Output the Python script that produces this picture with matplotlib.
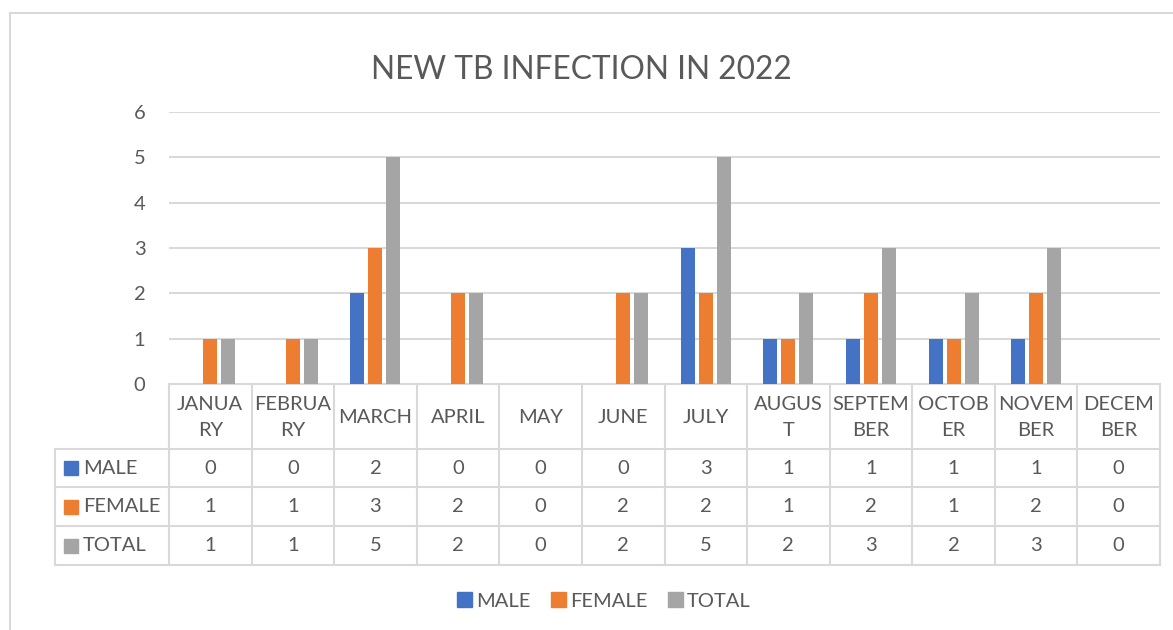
import matplotlib
matplotlib.use("Agg")
import matplotlib.pyplot as plt
from matplotlib.lines import Line2D
from matplotlib.patches import Rectangle

months = ["JANUARY", "FEBRUARY", "MARCH", "APRIL", "MAY", "JUNE", "JULY",
          "AUGUST", "SEPTEMBER", "OCTOBER", "NOVEMBER", "DECEMBER"]
month_labels = ["JANUA\nRY", "FEBRUA\nRY", "MARCH", "APRIL", "MAY", "JUNE", "JULY",
                "AUGUS\nT", "SEPTEM\nBER", "OCTOB\nER", "NOVEM\nBER", "DECEM\nBER"]
male = [0, 0, 2, 0, 0, 0, 3, 1, 1, 1, 1, 0]
female = [1, 1, 3, 2, 0, 2, 2, 1, 2, 1, 2, 0]
total = [1, 1, 5, 2, 0, 2, 5, 2, 3, 2, 3, 0]
series_names = ["MALE", "FEMALE", "TOTAL"]
y_ticks = [0, 1, 2, 3, 4, 5, 6]

colors = ["#4472C4", "#ED7D31", "#A5A5A5"]
text_color = "#595959"
line_color = "#D9D9D9"

plt.rcParams["font.family"] = ["Lato", "DejaVu Sans"]

W, H = 1173, 630
fig = plt.figure(figsize=(W / 100, H / 100), dpi=100)

# plot area in pixels
left, right, top, bottom = 169, 1160, 112, 384
ax = fig.add_axes([left / W, 1 - bottom / H, (right - left) / W, (bottom - top) / H])
ax.set_xlim(-0.5, len(months) - 0.5)
ax.set_ylim(0, 6)

unit_y = (bottom - top) / 6.0


def py(pix):
    # pixel row below the axis -> data y
    return (bottom - pix) / unit_y


col_w = (right - left) / len(months)


def px(pix):
    return (pix - left) / col_w - 0.5


bar_w = 14 / col_w
step = 18 / col_w
x = list(range(len(months)))
all_series = [male, female, total]
for k, (vals, c) in enumerate(zip(all_series, colors)):
    ax.bar([i + (k - 1) * step for i in x], vals, width=bar_w, color=c, zorder=3)

ax.set_yticks(y_ticks)
ax.set_yticklabels([str(t) for t in y_ticks], fontsize=14.5, color=text_color)
ax.tick_params(axis="y", length=0, pad=17)
ax.set_xticks([])
for s in ax.spines.values():
    s.set_visible(False)
for t in y_ticks[1:]:
    ax.axhline(t, color=line_color, lw=1.5, zorder=1)

# data table
row_edges = [384, 449, 487, 526, 565]
ys = [py(r) for r in row_edges]
x_lab = px(55)
lk = dict(color=line_color, lw=1.5, clip_on=False, zorder=2)
ax.plot([-0.5, len(months) - 0.5], [ys[0], ys[0]], **lk)
for yy in ys[1:]:
    ax.plot([x_lab, len(months) - 0.5], [yy, yy], **lk)
for i in range(len(months) + 1):
    ax.plot([i - 0.5, i - 0.5], [ys[0], ys[-1]], **lk)
ax.plot([x_lab, x_lab], [ys[1], ys[-1]], **lk)

for i, lab in enumerate(month_labels):
    ax.text(i, (ys[0] + ys[1]) / 2 - 1 / unit_y, lab, ha="center", va="center",
            fontsize=14.5, color=text_color, linespacing=1.7, clip_on=False)

for r, (name, vals, c) in enumerate(zip(series_names, all_series, colors)):
    yc = (ys[r + 1] + ys[r + 2]) / 2
    ax.add_patch(Rectangle((px(64), yc - 7 / unit_y), 14 / col_w, 14 / unit_y,
                           color=c, clip_on=False))
    ax.text(px(83), yc, name, ha="left", va="center", fontsize=14.5,
            color=text_color, clip_on=False)
    for i, v in enumerate(vals):
        ax.text(i, yc, str(v), ha="center", va="center", fontsize=14.5,
                color=text_color, clip_on=False)

fig.text(581 / W, 1 - 70 / H, "NEW TB INFECTION IN 2022", ha="center", va="center",
         fontsize=22.8, color=text_color)

handles = [Rectangle((0, 0), 1, 1, color=c) for c in colors]
fig.legend(handles, series_names, loc="center", bbox_to_anchor=(604 / W, 1 - 601 / H),
           ncol=3, frameon=False, fontsize=14.5, handlelength=0.72, handleheight=0.72,
           handletextpad=0.2, columnspacing=1.05, labelcolor=text_color)

# chart border
fig.add_artist(Line2D([10 / W, 10 / W], [0, 1 - 13 / H], color=line_color, lw=1.5))
fig.add_artist(Line2D([10 / W, 1], [1 - 13 / H, 1 - 13 / H], color=line_color, lw=1.5))

fig.savefig("out.png", dpi=100)
